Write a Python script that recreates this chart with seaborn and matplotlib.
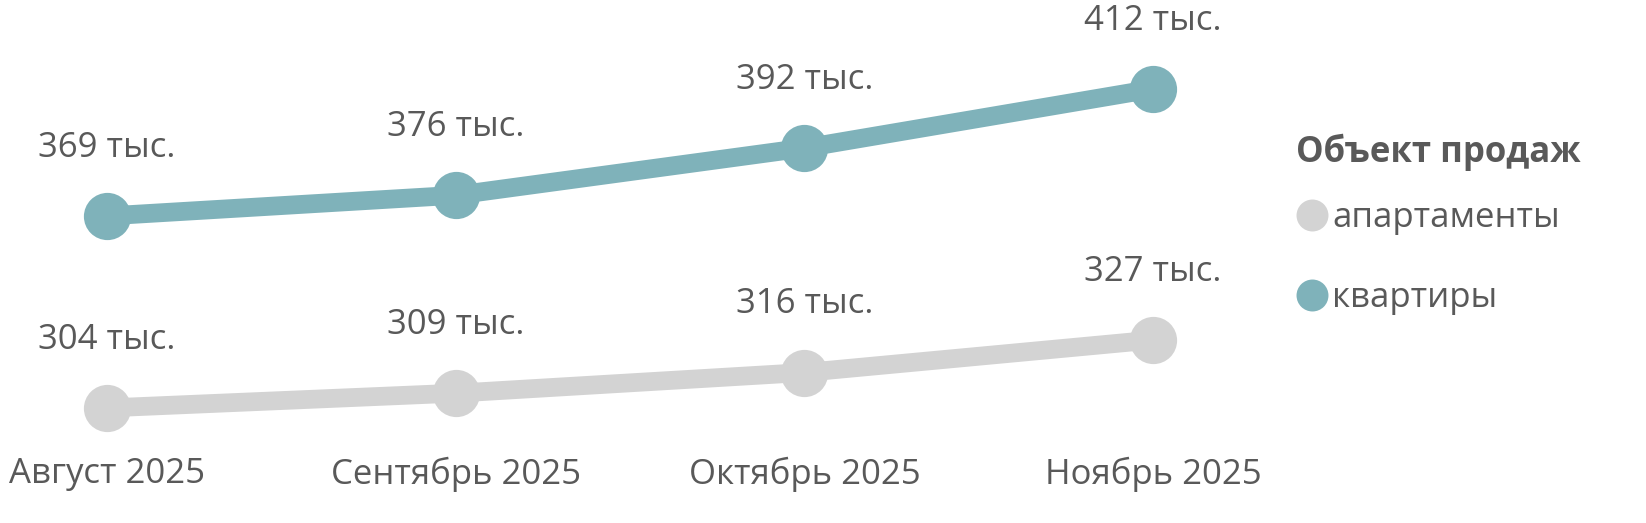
import matplotlib
matplotlib.use('Agg')
import matplotlib.pyplot as plt
from matplotlib.lines import Line2D
import pandas as pd
import seaborn as sns

months = ['Август 2025', 'Сентябрь 2025', 'Октябрь 2025', 'Ноябрь 2025']
apartments = [304, 309, 316, 327]
flats = [369, 376, 392, 412]
series_names = ['апартаменты', 'квартиры']
colors = {'апартаменты': '#D3D3D3', 'квартиры': '#7FB2BA'}
TEXT = '#595959'
FS = 25

sns.set_style('white')
plt.rcParams['font.family'] = ['Open Sans', 'DejaVu Sans']

df = pd.DataFrame({
    'month': months * 2,
    'x': list(range(len(months))) * 2,
    'value': apartments + flats,
    'series': [series_names[0]] * 4 + [series_names[1]] * 4,
})

fig = plt.figure(figsize=(16.46, 5.23), dpi=100)
ax = fig.add_axes([0, 83 / 523, 1, 440 / 523])

sns.lineplot(data=df, x='x', y='value', hue='series', hue_order=series_names,
             palette=colors, linewidth=13.5, marker='o', markersize=34,
             markeredgewidth=0, legend=False, ax=ax)

# value labels above each point
for _, row in df.iterrows():
    ax.annotate(f"{row['value']} тыс.", (row['x'], row['value']),
                xytext=(0, 49), textcoords='offset points',
                ha='center', va='center', fontsize=FS, color=TEXT)

ax.set_xlim(-107 / 348.67, 1539 / 348.67)
ax.set_ylim(293.15, 442.1)
ax.set_xticks(range(len(months)))
ax.set_xticklabels(months, fontsize=FS, color=TEXT)
ax.tick_params(axis='x', length=0, pad=12)
ax.set_yticks([])
ax.set_xlabel('')
ax.set_ylabel('')
sns.despine(ax=ax, left=True, bottom=True)

# legend
fig.text(1296 / 1646, 1 - 152 / 523, 'Объект продаж', ha='left', va='center',
         fontsize=FS, fontweight='bold', color=TEXT)
handles = [Line2D([], [], linestyle='none', marker='o', markersize=23,
                  markeredgewidth=0, color=colors[s]) for s in series_names]
leg = fig.legend(handles, series_names, loc='upper left',
                 bbox_to_anchor=(1296 / 1646, 1 - 201 / 523),
                 frameon=False, fontsize=FS, borderpad=0, borderaxespad=0,
                 handletextpad=0.15, labelspacing=1.32, handlelength=0.9)
for t in leg.get_texts():
    t.set_color(TEXT)

fig.savefig('out.png', dpi=100)
